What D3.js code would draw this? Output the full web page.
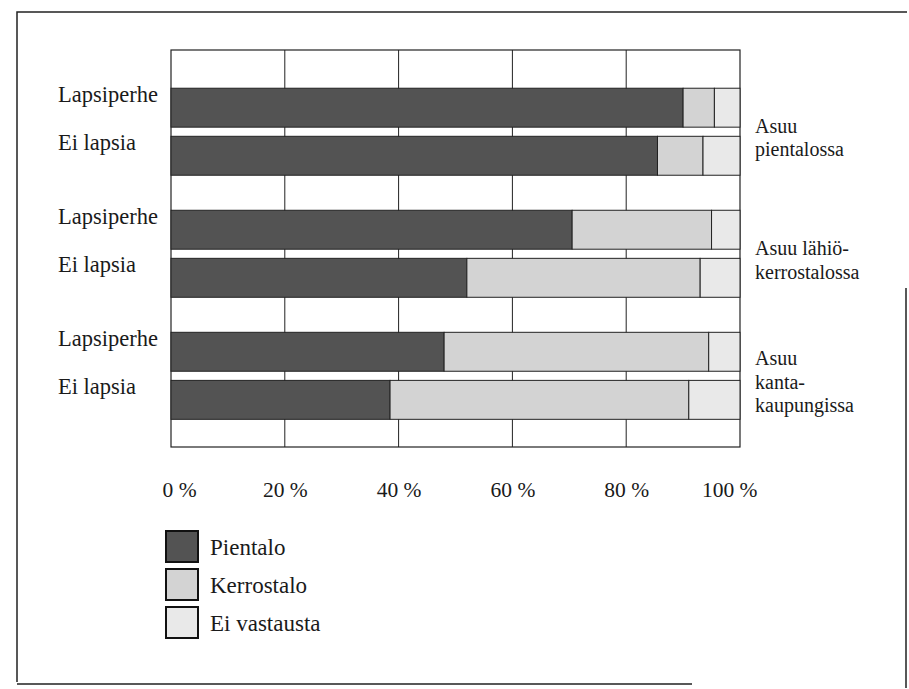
<!DOCTYPE html>
<html>
<head>
<meta charset="utf-8">
<script src="https://cdn.jsdelivr.net/npm/d3@7"></script>
<style>
  body { margin: 0; background: #fff; }
</style>
</head>
<body>
<div id="chart"></div>
<script>
// data (percent shares)
const groups = ["pientalo", "lahio", "kanta"];
const groupLabels = [["Asuu", "pientalossa"], ["Asuu lähiö-", "kerrostalossa"], ["Asuu", "kanta-", "kaupungissa"]];
const households = ["Lapsiperhe", "Ei lapsia"];
const seriesNames = ["Pientalo", "Kerrostalo", "Ei vastausta"];
// one value per row: group x household
const pientaloVals   = [90, 85.5, 70.5, 52, 48, 38.5];
const kerrostaloVals = [5.5, 8, 24.5, 41, 46.5, 52.5];
const eiVastVals     = [4.5, 6.5, 5, 7, 5.5, 9];
const ticks = [0, 20, 40, 60, 80, 100];

const width = 909, height = 689;
const margin = { top: 50, right: 169, bottom: 242, left: 171 };
const innerW = width - margin.left - margin.right;
const innerH = height - margin.top - margin.bottom;
const serif = "Liberation Serif";
const ink = "#1a1a1a";

const svg = d3.select("#chart").append("svg")
  .attr("width", width)
  .attr("height", height);

// outer frame of the page
svg.append("path")
  .attr("d", "M17,682 L17,12 L907,12 M906,288 L906,688 M17,684 L692,684")
  .attr("fill", "none")
  .attr("stroke", "#222")
  .attr("stroke-width", 1.5);

const g = svg.append("g").attr("transform", `translate(${margin.left},${margin.top})`);

const x = d3.scaleLinear().domain([0, 100]).range([0, innerW]);
const yGroup = d3.scaleBand().domain(groups).range([0, innerH])
  .paddingInner(0.287).paddingOuter(0.27).align(0.58);
const yRow = d3.scaleBand().domain(households).range([0, yGroup.bandwidth()]).paddingInner(0.19).paddingOuter(0);

const color = d3.scaleOrdinal().domain(seriesNames).range(["#535353", "#d3d3d3", "#e9e9e9"]);

// plot box + vertical grid
g.append("rect")
  .attr("width", innerW).attr("height", innerH)
  .attr("fill", "none").attr("stroke", "#222").attr("stroke-width", 1.2);
g.selectAll(".grid").data(ticks.slice(1, -1)).enter().append("line")
  .attr("x1", d => x(d)).attr("x2", d => x(d))
  .attr("y1", 0).attr("y2", innerH)
  .attr("stroke", "#222").attr("stroke-width", 1);

// rows
const rows = [];
groups.forEach((grp, gi) => {
  households.forEach((h, hi) => {
    const i = gi * 2 + hi;
    rows.push({ group: grp, household: h, values: [pientaloVals[i], kerrostaloVals[i], eiVastVals[i]] });
  });
});

const stackData = rows.map(r => {
  let acc = 0;
  return r.values.map((v, k) => {
    const seg = { group: r.group, household: r.household, name: seriesNames[k], x0: acc, x1: acc + v };
    acc += v;
    return seg;
  });
}).flat();

g.selectAll(".seg").data(stackData).enter().append("rect")
  .attr("class", "seg")
  .attr("x", d => x(d.x0))
  .attr("width", d => x(d.x1) - x(d.x0))
  .attr("y", d => yGroup(d.group) + yRow(d.household))
  .attr("height", yRow.bandwidth())
  .attr("fill", d => color(d.name))
  .attr("stroke", "#222")
  .attr("stroke-width", 1);

// left row labels
g.selectAll(".rowlab").data(rows).enter().append("text")
  .attr("x", 58 - margin.left)
  .attr("y", d => yGroup(d.group) + yRow(d.household) + yRow.bandwidth() / 2 - 6)
  .attr("font-size", 22.5)
  .attr("font-family", serif)
  .attr("fill", ink)
  .text(d => d.household);

// right group labels, one text per line
groups.forEach((grp, gi) => {
  const lines = groupLabels[gi];
  const cy = yGroup(grp) + yGroup.bandwidth() / 2 + 13;
  lines.forEach((ln, li) => {
    g.append("text")
      .attr("x", innerW + 15)
      .attr("y", cy + (li - (lines.length - 1) / 2) * 23.5)
      .attr("font-size", 20)
      .attr("font-family", serif)
      .attr("fill", ink)
      .text(ln);
  });
});

// x axis labels
const xAxis = d3.axisBottom(x).tickValues(ticks).tickSize(0).tickPadding(35).tickFormat(d => d + " %");
const ax = g.append("g").attr("transform", `translate(0,${innerH})`).call(xAxis);
ax.attr("font-family", serif);
ax.select(".domain").remove();
ax.selectAll("text").attr("font-size", 21.5).attr("font-family", serif).attr("fill", ink);
// end labels sit inside the frame like in the print
ax.selectAll("text").filter(d => d === 0).attr("text-anchor", "start").attr("x", -9);
ax.selectAll("text").filter(d => d === 100).attr("text-anchor", "end").attr("x", 17);

// legend
const legend = svg.append("g").attr("transform", "translate(166,531)");
const li = legend.selectAll(".leg").data(seriesNames).enter().append("g")
  .attr("transform", (d, i) => `translate(0,${i * 38})`);
li.append("rect")
  .attr("width", 32).attr("height", 31)
  .attr("fill", d => color(d))
  .attr("stroke", "#111").attr("stroke-width", 2);
li.append("text")
  .attr("x", 44).attr("y", 24)
  .attr("font-size", 23)
  .attr("font-family", serif)
  .attr("fill", ink)
  .text(d => d);
</script>
</body>
</html>
